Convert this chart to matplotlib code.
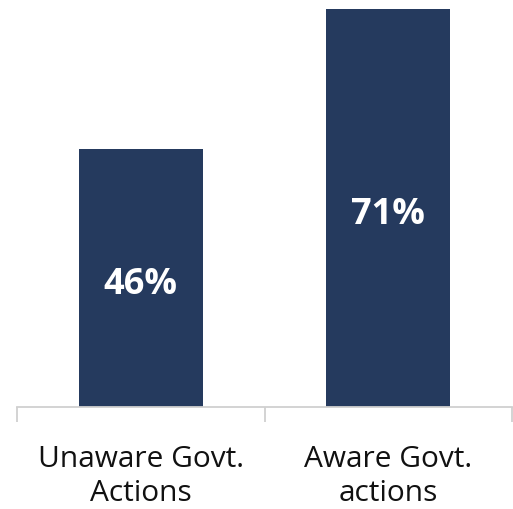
import numpy as np
import matplotlib.pyplot as plt

plt.rcParams['font.family'] = ['Open Sans', 'DejaVu Sans']

categories = ['Unaware Govt.\nActions', 'Aware Govt.\nactions']
values = [46, 71]

bar_color = '#253a5e'
axis_color = '#d0d0d0'

fig = plt.figure(figsize=(5.13, 5.10), dpi=100)
ax = fig.add_axes([17 / 513, 102 / 510, 495 / 513, 408 / 510])

x = np.arange(len(categories))
bars = ax.bar(x, values, width=0.5, color=bar_color)

# value labels sit a touch below the middle of each bar
for b, v in zip(bars, values):
    ax.text(b.get_x() + b.get_width() / 2, v / 2 - 1.1, f'{v}%',
            ha='center', va='center', color='white',
            fontsize=26, fontweight='bold')

ax.set_xlim(-0.5, len(categories) - 0.5)
ax.set_ylim(0, 72.7)

ax.set_xticks(x)
ax.set_xticklabels(categories, fontsize=21.5, color='#111111', linespacing=1.22)
ax.tick_params(axis='x', which='major', length=0, pad=27)
ax.set_xticks(np.arange(-0.5, len(categories)), minor=True)
ax.tick_params(axis='x', which='minor', length=11, width=1.3, color=axis_color)
ax.set_yticks([])

for side in ['top', 'left', 'right']:
    ax.spines[side].set_visible(False)
ax.spines['bottom'].set_color(axis_color)
ax.spines['bottom'].set_linewidth(1.3)

fig.savefig('out.png', dpi=100)
